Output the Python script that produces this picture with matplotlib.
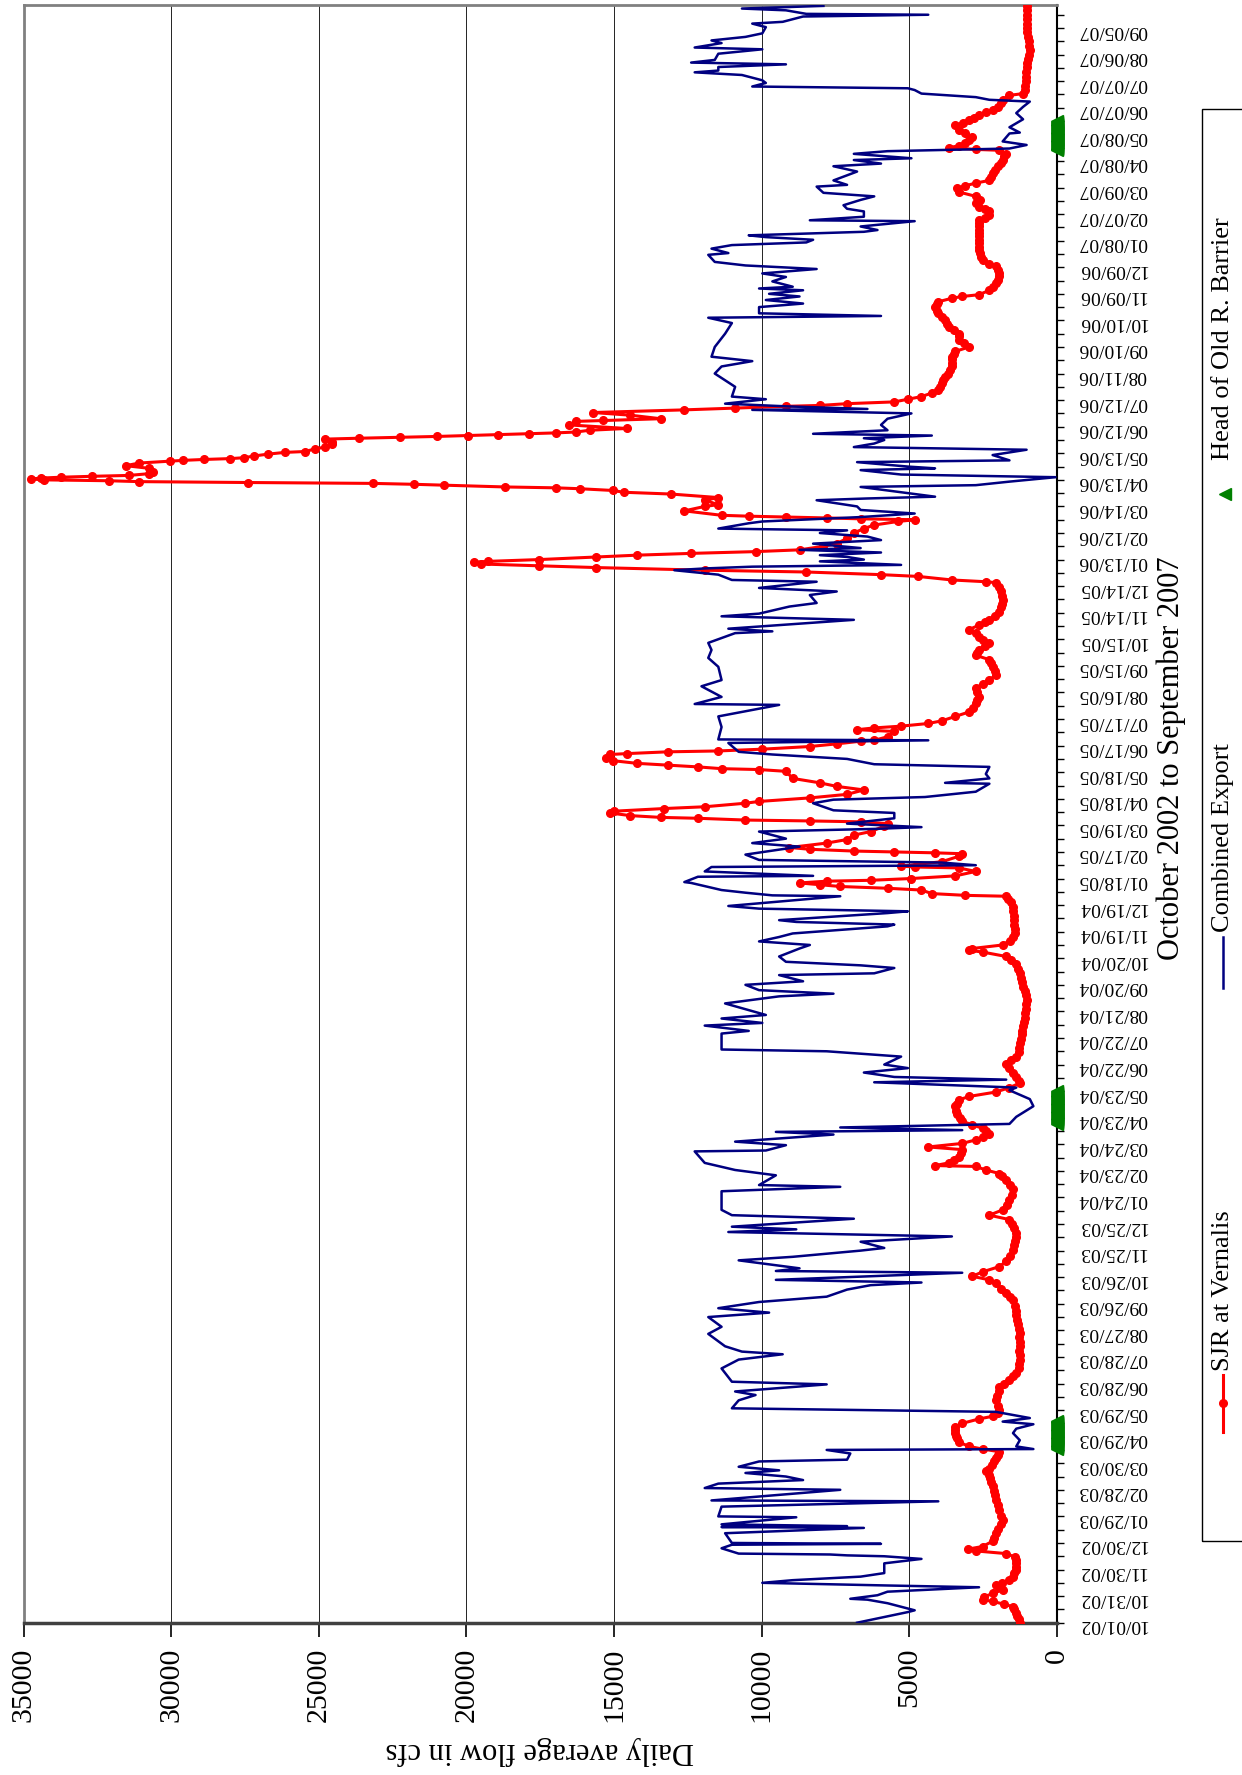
import numpy as np
import pandas as pd
from matplotlib import pyplot as plt
from matplotlib.lines import Line2D
from matplotlib.patches import Rectangle

plt.rcParams['font.family'] = ['Liberation Serif', 'DejaVu Serif']

start = pd.Timestamp('2002-10-01')

# SJR at Vernalis: (day offset from 10/01/02, cfs)
sjr_points = [
    (0, 1260), (4, 1300), (8, 1350), (11, 1380), (15, 1440), (18, 1490), (21, 1800), (24, 2180),
    (26, 2520), (29, 2480), (33, 2180), (37, 1840), (40, 1950), (43, 2070), (45, 1850), (48, 1610),
    (52, 1500), (56, 1440), (60, 1400), (63, 1380), (67, 1380), (71, 1380), (74, 1420), (78, 1720),
    (81, 2750), (83, 3030), (86, 2520), (92, 2180), (96, 2120), (101, 2070), (106, 1990), (111, 1900),
    (116, 1840), (121, 1880), (127, 1950), (133, 2000), (139, 2070), (144, 2100), (149, 2140),
    (154, 2180), (159, 2220), (163, 2260), (167, 2290), (171, 2410), (174, 2290), (178, 2200),
    (182, 2130), (186, 2070), (189, 2000), (193, 1950), (196, 2520), (199, 2980), (204, 3330),
    (208, 3380), (211, 3420), (214, 3440), (218, 3440), (221, 3440), (225, 3210), (230, 2640),
    (233, 2180), (237, 2000), (240, 1950), (245, 2000), (251, 2070), (256, 2030), (261, 1980),
    (266, 1950), (270, 1780), (274, 1610), (278, 1480), (282, 1380), (287, 1300), (292, 1270),
    (297, 1260), (302, 1250), (307, 1270), (312, 1250), (317, 1260), (322, 1280), (327, 1260),
    (332, 1300), (337, 1320), (342, 1350), (347, 1380), (352, 1400), (357, 1430), (364, 1490),
    (368, 1600), (372, 1720), (377, 1900), (383, 2070), (387, 2290), (391, 2870), (396, 2520),
    (402, 1950), (408, 1720), (414, 1600), (421, 1490), (426, 1450), (431, 1420), (435, 1400),
    (440, 1380), (445, 1440), (450, 1520), (455, 1610), (460, 2290), (466, 1840), (471, 1700),
    (477, 1610), (483, 1540), (489, 1490), (494, 1600), (500, 1720), (504, 1850), (507, 1950),
    (511, 2410), (515, 2750), (516, 4130), (519, 3670), (522, 3500), (526, 3330), (530, 3260),
    (534, 3210), (537, 4360), (541, 3210), (545, 2750), (548, 2500), (552, 2290), (555, 2400),
    (558, 2520), (562, 2870), (566, 3210), (570, 3300), (574, 3380), (578, 3420), (583, 3440),
    (586, 3400), (590, 3330), (594, 2980), (599, 2070), (604, 1610), (609, 1260), (612, 1300),
    (616, 1380), (621, 1500), (626, 1610), (631, 1720), (635, 1550), (639, 1380), (644, 1300),
    (649, 1280), (654, 1260), (659, 1230), (664, 1200), (668, 1170), (673, 1150), (678, 1120),
    (683, 1100), (688, 1080), (693, 1060), (698, 1040), (703, 1030), (708, 1060), (713, 1100),
    (718, 1150), (723, 1190), (728, 1230), (733, 1260), (738, 1320), (744, 1380), (748, 1550),
    (752, 1720), (757, 2520), (759, 2980), (761, 2870), (765, 1840), (770, 1600), (774, 1480),
    (778, 1420), (783, 1430), (788, 1450), (793, 1450), (798, 1470), (803, 1480), (808, 1490),
    (813, 1560), (817, 1650), (820, 1720), (821, 3100), (823, 4240), (827, 4590), (829, 5740),
    (831, 7340), (833, 8030), (835, 8720), (837, 7800), (838, 6310), (840, 4930), (843, 3440),
    (848, 2750), (852, 3330), (853, 4820), (854, 5280), (859, 3900), (865, 3330), (868, 3210),
    (869, 4130), (870, 5510), (871, 6880), (873, 8370), (875, 9060), (880, 7800), (884, 7110),
    (889, 6880), (893, 6310), (899, 5850), (902, 5740), (904, 6650), (905, 8370), (906, 10550),
    (908, 12160), (909, 13420), (911, 14450), (914, 15140), (916, 15000), (919, 13300),
    (921, 11930), (925, 10550), (927, 10090), (931, 8370), (935, 7110), (940, 6540), (944, 7460),
    (948, 8030), (953, 8950), (961, 9180), (963, 10090), (964, 11360), (966, 12160), (968, 13190),
    (970, 14220), (973, 15030), (976, 15260), (980, 15140), (981, 14570), (983, 13190),
    (984, 11470), (986, 9980), (989, 8370), (992, 7460), (995, 6650), (996, 6190), (1000, 5740),
    (1006, 5510), (1008, 6770), (1010, 6190), (1012, 5280), (1015, 4360), (1018, 3900),
    (1023, 3440), (1028, 2980), (1033, 2850), (1038, 2750), (1041, 2700), (1045, 2640),
    (1050, 2700), (1055, 2750), (1060, 2500), (1064, 2290), (1070, 2070), (1074, 2100),
    (1079, 2180), (1083, 2230), (1087, 2290), (1092, 2750), (1095, 2700), (1098, 2640),
    (1102, 2450), (1106, 2290), (1109, 2520), (1113, 2650), (1117, 2750), (1121, 2980),
    (1126, 2640), (1129, 2450), (1132, 2290), (1136, 2100), (1141, 1950), (1146, 1900),
    (1150, 1860), (1154, 1840), (1159, 1870), (1164, 1910), (1169, 1950), (1174, 2070),
    (1175, 2410), (1177, 3560), (1181, 4700), (1183, 5960), (1186, 8490), (1188, 11930),
    (1191, 15600), (1193, 17550), (1195, 19500), (1197, 19730), (1198, 19270), (1200, 17550),
    (1203, 15600), (1205, 14220), (1207, 12390), (1209, 10210), (1211, 8720), (1215, 7910),
    (1218, 7460), (1224, 7110), (1230, 6880), (1235, 6540), (1239, 6190), (1243, 5390),
    (1245, 4820), (1246, 6650), (1247, 7800), (1248, 9180), (1249, 10440), (1250, 11360),
    (1255, 12620), (1260, 11930), (1262, 11470), (1267, 11930), (1270, 11470), (1274, 13080),
    (1276, 14680), (1278, 15030), (1280, 16170), (1281, 16980), (1282, 18700), (1284, 20760),
    (1285, 21790), (1286, 23170), (1287, 27410), (1288, 31080), (1289, 32120), (1290, 34300),
    (1291, 34750), (1292, 34410), (1293, 33720), (1294, 32690), (1295, 31430), (1297, 30740),
    (1299, 30630), (1303, 30740), (1306, 31540), (1309, 31080), (1311, 30050), (1312, 29590),
    (1313, 28900), (1314, 27990), (1315, 27530), (1317, 27180), (1319, 26730), (1321, 26150),
    (1322, 25460), (1325, 25120), (1327, 24780), (1330, 24550), (1333, 24550), (1336, 24780),
    (1337, 23630), (1338, 22250), (1339, 20990), (1340, 19960), (1341, 18930), (1342, 17890),
    (1343, 16980), (1344, 16290), (1346, 15830), (1348, 14570), (1352, 16520), (1356, 16290),
    (1357, 15370), (1359, 13420), (1363, 14450), (1366, 15710), (1369, 12620), (1371, 10900),
    (1373, 9180), (1374, 8030), (1376, 7110), (1378, 5510), (1381, 5050), (1384, 4590),
    (1388, 4240), (1391, 4020), (1395, 3950), (1399, 3900), (1403, 3850), (1406, 3790),
    (1410, 3700), (1414, 3620), (1418, 3560), (1422, 3560), (1426, 3560), (1429, 3560),
    (1432, 3500), (1435, 3440), (1440, 2980), (1444, 3150), (1448, 3330), (1452, 3330),
    (1455, 3330), (1459, 3500), (1463, 3670), (1466, 3730), (1470, 3790), (1474, 3900),
    (1478, 4020), (1481, 4080), (1485, 4130), (1488, 4080), (1491, 4020), (1495, 3560),
    (1497, 3210), (1499, 2640), (1504, 2290), (1508, 2180), (1512, 2070), (1516, 2000),
    (1520, 1970), (1523, 1950), (1527, 2000), (1531, 2070), (1534, 2290), (1538, 2520),
    (1542, 2580), (1546, 2620), (1549, 2640), (1553, 2640), (1557, 2640), (1561, 2640),
    (1565, 2640), (1569, 2640), (1572, 2640), (1576, 2640), (1580, 2640), (1583, 2640),
    (1586, 2450), (1589, 2290), (1593, 2290), (1596, 2450), (1598, 2640), (1602, 2750),
    (1606, 2600), (1610, 2750), (1615, 3330), (1619, 3400), (1622, 3100), (1625, 2750),
    (1628, 2290), (1632, 2230), (1636, 2180), (1640, 2090), (1644, 2000), (1648, 1900),
    (1651, 1840), (1655, 1780), (1658, 1720), (1662, 1950), (1663, 2750), (1665, 3670),
    (1667, 3330), (1670, 3100), (1674, 2980), (1677, 2870), (1681, 3100), (1685, 3330),
    (1690, 3440), (1693, 3200), (1696, 2980), (1699, 2800), (1702, 2640), (1705, 2400),
    (1707, 2180), (1711, 2000), (1715, 1900), (1719, 1840), (1724, 1610), (1726, 1150),
    (1730, 1100), (1735, 1080), (1740, 1060), (1745, 1050), (1750, 1040), (1756, 1030),
    (1760, 1000), (1765, 970), (1770, 940), (1775, 920), (1780, 940), (1785, 960), (1790, 980),
    (1795, 1000), (1800, 1010), (1805, 1020), (1810, 1030), (1815, 1030), (1820, 1030),
    (1825, 1030)]
sjr_day = [p[0] for p in sjr_points]
sjr_cfs = [p[1] for p in sjr_points]

# Combined Export (day offset, cfs)
exp_day = [0, 12, 14, 22, 26, 27, 31, 35, 40, 42, 45, 48, 52, 56, 67, 72, 75, 76, 77, 78, 84,
           88, 89, 90, 101, 107, 108, 109, 111, 119, 120, 131, 137, 138, 150, 152, 157, 161,
           165, 169, 172, 176, 182, 184, 191, 195, 196, 199, 206, 214, 219, 224, 227, 231,
           238, 242, 251, 257, 261, 269, 272, 287, 297, 303, 306, 312, 326, 334, 345, 350,
           355, 362, 368, 376, 381, 384, 387, 395, 397, 400, 406, 409, 413, 420, 423, 430,
           436, 441, 444, 447, 456, 460, 466, 487, 492, 494, 505, 511, 519, 532, 533, 539,
           543, 551, 554, 556, 559, 563, 571, 583, 591, 601, 604, 610, 613, 616, 621, 626,
           630, 639, 645, 647, 665, 668, 674, 677, 682, 686, 699, 703, 707, 710, 714, 720,
           724, 731, 733, 739, 742, 746, 752, 761, 765, 769, 774, 778, 786, 788, 791, 793,
           801, 803, 806, 809, 812, 820, 821, 824, 827, 835, 836, 842, 843, 848, 853, 855,
           858, 861, 867, 876, 880, 885, 893, 896, 898, 902, 908, 914, 917, 925, 929, 932,
           938, 947, 948, 953, 958, 966, 969, 975, 980, 983, 993, 996, 997, 1011, 1023, 1036,
           1037, 1045, 1057, 1064, 1079, 1089, 1098, 1106, 1117, 1119, 1122, 1132, 1136,
           1139, 1147, 1151, 1160, 1164, 1168, 1175, 1177, 1183, 1188, 1190, 1192, 1194,
           1198, 1200, 1203, 1205, 1208, 1211, 1213, 1218, 1222, 1226, 1230, 1233, 1235,
           1241, 1243, 1248, 1252, 1256, 1260, 1267, 1269, 1271, 1282, 1284, 1288, 1293,
           1296, 1301, 1303, 1305, 1310, 1312, 1318, 1324, 1327, 1331, 1335, 1337, 1340,
           1342, 1346, 1352, 1359, 1365, 1369, 1370, 1373, 1376, 1381, 1384, 1395, 1410,
           1418, 1424, 1429, 1440, 1455, 1467, 1473, 1475, 1478, 1485, 1489, 1493, 1497,
           1500, 1504, 1506, 1508, 1514, 1519, 1523, 1528, 1532, 1536, 1544, 1546, 1551,
           1555, 1558, 1561, 1564, 1566, 1570, 1572, 1576, 1582, 1583, 1587, 1593, 1596,
           1600, 1606, 1610, 1614, 1621, 1623, 1628, 1638, 1644, 1647, 1651, 1653, 1658,
           1661, 1664, 1668, 1672, 1681, 1682, 1688, 1697, 1704, 1711, 1717, 1719, 1722,
           1726, 1730, 1732, 1733, 1734, 1738, 1741, 1747, 1750, 1752, 1756, 1759, 1761,
           1764, 1771, 1776, 1778, 1783, 1786, 1790, 1794, 1801, 1805, 1807, 1813, 1815,
           1816, 1820, 1822, 1825]
exp_cfs = [6770, 5050, 4820, 5740, 6420, 7000, 6080, 5740, 2640, 5740, 9980, 8950, 6650, 5850,
           5850, 4590, 5850, 7110, 7690, 10780, 11360, 11010, 5960, 11010, 11240, 6540, 11360,
           7110, 11360, 8830, 11470, 11360, 4020, 11700, 7340, 11930, 11470, 8600, 9180, 10550,
           9410, 10780, 10090, 7110, 7000, 7800, 800, 1380, 1260, 1490, 1380, 800, 1840, 920,
           2070, 11010, 10780, 10210, 10900, 7800, 11010, 11360, 10780, 9290, 10670, 11240,
           11810, 11360, 11810, 9750, 11470, 10090, 7800, 7110, 6310, 4590, 9520, 3210, 9520,
           8720, 10090, 10780, 8950, 6650, 5850, 6650, 3560, 11130, 8830, 11010, 6880, 11010,
           11360, 11360, 7340, 10090, 9520, 10900, 11930, 12270, 9860, 9180, 10900, 7570, 9520,
           3210, 7340, 1610, 1380, 800, 920, 1610, 1380, 6190, 1720, 5510, 6540, 5050, 5850,
           5280, 7800, 11360, 11360, 10440, 11930, 9980, 11360, 9860, 11240, 10320, 9410, 7570,
           10090, 10550, 8600, 9410, 6190, 5510, 6650, 9180, 9410, 8720, 8370, 10090, 9410,
           8950, 5740, 5510, 8830, 9410, 5740, 5050, 10090, 11130, 10090, 7340, 9640, 10550,
           11360, 12390, 12620, 12160, 8260, 11930, 11700, 2750, 3900, 10090, 10550, 8720,
           10320, 9180, 10090, 6190, 4590, 7110, 5510, 5510, 7570, 8260, 7570, 4470, 2750,
           2290, 3790, 2290, 2410, 2290, 6190, 7110, 9640, 10780, 11130, 4360, 11470, 11360,
           11470, 9410, 12270, 11360, 12040, 11360, 11470, 11810, 11700, 11810, 10900, 9640,
           11130, 6880, 11360, 10090, 9060, 8140, 8370, 7460, 10090, 8140, 11010, 11470, 12960,
           11930, 10320, 5280, 8030, 6540, 7110, 8030, 5960, 8720, 6650, 8260, 5960, 6420,
           8030, 7110, 11470, 10440, 9980, 6650, 4820, 6650, 6770, 8140, 6420, 4130, 6650,
           2750, 1610, 50, 5280, 6650, 4130, 5050, 6770, 1610, 2180, 1030, 6880, 6190, 5850,
           6540, 4240, 8260, 5740, 5960, 5740, 4930, 10320, 6420, 9180, 11240, 9860, 11010,
           10900, 11590, 11360, 10320, 11700, 11590, 11240, 11010, 11810, 5960, 10090, 10090,
           8600, 9860, 8720, 9750, 8600, 10090, 8950, 9640, 9180, 9980, 8140, 10550, 11590,
           11810, 11130, 11700, 11010, 8490, 8260, 9860, 10440, 6540, 6080, 6650, 4820, 8370,
           6540, 6540, 7110, 7230, 6650, 6190, 7910, 8140, 7110, 7570, 6770, 7570, 5960, 6880,
           4930, 6880, 5740, 1610, 1030, 1840, 1610, 1260, 1610, 1150, 1380, 1150, 920, 2290,
           2750, 4590, 4820, 5050, 7800, 10320, 9860, 9980, 10670, 12270, 11470, 11470, 9180,
           12390, 11590, 11470, 9980, 12270, 11360, 11700, 10550, 9980, 9860, 10320, 9290,
           8600, 4360, 8490, 9180, 10670, 7910]

# Head of Old River Barrier installed
horb_start = ['2003-04-15', '2004-04-16', '2007-04-20']
horb_end = ['2003-05-17', '2004-05-23', '2007-05-23']
horb_cfs = 0

tick_dates = pd.date_range(start, periods=61, freq='30D')
tick_days = (tick_dates - start).days
tick_labels = [d.strftime('%m/%d/%y') for d in tick_dates]

fig = plt.figure(figsize=(12.42, 17.75), dpi=100)
ax = fig.add_axes([23.5 / 1242, 1 - 1622.7 / 1775, (1057 - 23.5) / 1242, (1622.7 - 5) / 1775])

ax.plot(sjr_cfs, sjr_day, color='red', lw=2.2, marker='o', ms=5.5, zorder=3)
ax.plot(exp_cfs, exp_day, color='#000080', lw=1.8, zorder=4)
for s, e in zip(horb_start, horb_end):
    days = (pd.date_range(s, e) - start).days
    ax.plot(np.full(len(days), horb_cfs), days, ls='none', marker='<', ms=9,
            color='green', clip_on=False, zorder=5)

ax.set_xlim(35000, 0)
ax.set_ylim(0, 1826)

ax.set_xticks(np.arange(0, 35001, 5000))
ax.set_xticklabels([str(v) for v in range(0, 35001, 5000)], rotation=90, fontsize=21.5)
ax.tick_params(axis='x', direction='out', length=10, width=1.2, pad=8)
ax.xaxis.grid(True, color='black', lw=0.6)
ax.set_axisbelow(True)

ax.yaxis.tick_right()
ax.set_yticks(tick_days)
ax.set_yticks(np.arange(15, 1826, 30), minor=True)
ax.set_yticklabels(tick_labels, rotation=180, fontsize=14)
ax.tick_params(axis='y', which='both', direction='out', length=5, width=1, pad=10)

for side in ['top', 'left']:
    ax.spines[side].set_color('#808080')
    ax.spines[side].set_linewidth(2)
ax.spines['right'].set_color('black')
ax.spines['right'].set_linewidth(1.5)
ax.spines['bottom'].set_color('#404040')
ax.spines['bottom'].set_linewidth(2.5)

ax.set_xlabel('Daily average flow in cfs', rotation=180, fontsize=22, va='center')
ax.xaxis.set_label_coords(0.5, -0.0787)
ax.yaxis.set_label_position('right')
ax.set_ylabel('October 2002 to September 2007', rotation=90, fontsize=22, va='center', ha='center')
ax.yaxis.set_label_coords(1.111, 0.5345)

# legend, drawn rotated like the rest of the chart
W, H = 1242, 1775
fig.patches.append(Rectangle((1201.7 / W, 1 - 1541 / H), 0.06, (1541 - 109) / H,
                             transform=fig.transFigure, fill=False, ec='black', lw=1))
fig.lines.append(Line2D([1223 / W, 1223 / W], [1 - 1432 / H, 1 - 1375 / H], color='red', lw=2.2,
                        transform=fig.transFigure))
fig.lines.append(Line2D([1223 / W], [1 - 1403 / H], color='red', marker='o', ms=5.5,
                        transform=fig.transFigure))
fig.text(1223 / W, 1 - 1371 / H, 'SJR at Vernalis', rotation=90, fontsize=19,
         ha='center', va='bottom')
fig.lines.append(Line2D([1223 / W, 1223 / W], [1 - 988 / H, 1 - 937 / H], color='#000080', lw=1.8,
                        transform=fig.transFigure))
fig.text(1223 / W, 1 - 932 / H, 'Combined Export', rotation=90, fontsize=19,
         ha='center', va='bottom')
fig.lines.append(Line2D([1225 / W], [1 - 494 / H], color='green', marker='<', ms=8, ls='none',
                        transform=fig.transFigure))
fig.text(1223 / W, 1 - 460 / H, 'Head of Old R. Barrier', rotation=90, fontsize=19,
         ha='center', va='bottom')

fig.savefig('out.png', dpi=100)
